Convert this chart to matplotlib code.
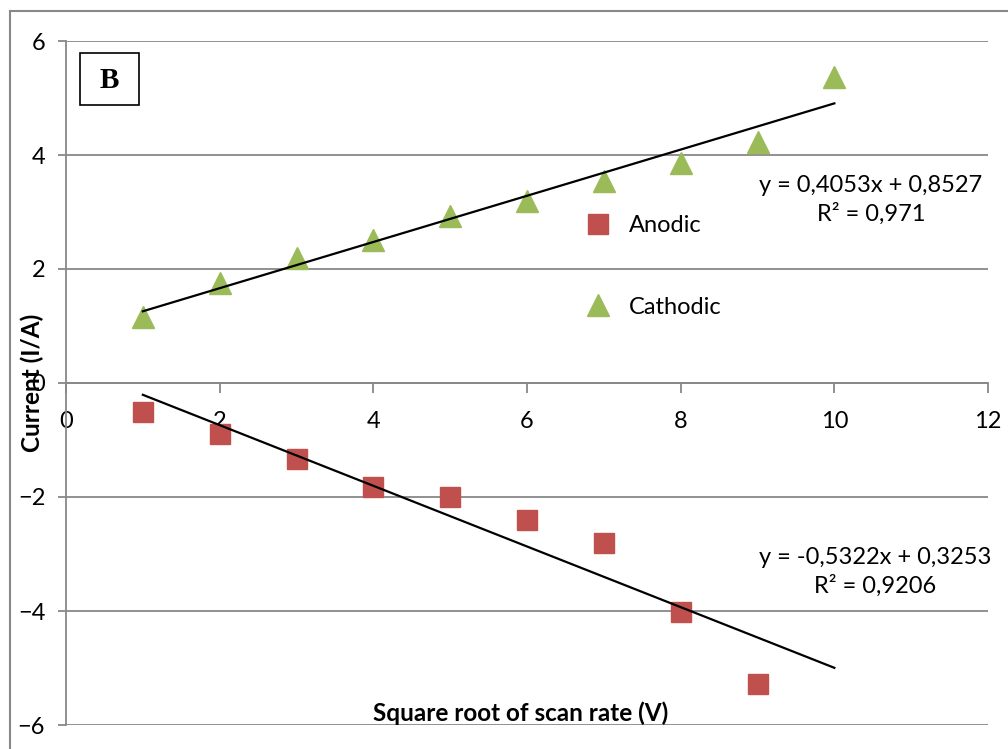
import matplotlib
matplotlib.use("Agg")
import matplotlib.pyplot as plt
from matplotlib.lines import Line2D
from matplotlib.patches import Rectangle
import numpy as np

plt.rcParams['font.family'] = ['Lato', 'DejaVu Sans']

x_cath = [1, 2, 3, 4, 5, 6, 7, 8, 9, 10]
y_cath = [1.16, 1.75, 2.19, 2.51, 2.93, 3.19, 3.54, 3.86, 4.23, 5.37]
x_anod = [1, 2, 3, 4, 5, 6, 7, 8, 9]
y_anod = [-0.51, -0.89, -1.33, -1.82, -2.0, -2.40, -2.81, -4.02, -5.28]

fit_cath = (0.4053, 0.8527)
fit_anod = (-0.5322, 0.3253)
fit_x = [1, 10]

eq_cath = "y = 0,4053x + 0,8527\nR² = 0,971"
eq_anod = "y = -0,5322x + 0,3253\nR² = 0,9206"

xticks = [0, 2, 4, 6, 8, 10, 12]
yticks = [-6, -4, -2, 0, 2, 4, 6]

W, H = 1008, 749
fig = plt.figure(figsize=(W / 100, H / 100), dpi=100)
ax = fig.add_axes([66 / W, 1 - 725 / H, (988 - 66) / W, (725 - 41) / H])

grey = '#888888'
red = '#C0504D'
green = '#9BBB59'
fs = 17

ax.set_xlim(0, 12)
ax.set_ylim(-6, 6)
ax.set_xticks(xticks)
ax.set_yticks(yticks)
ax.yaxis.grid(True, color=grey, linewidth=1.3)
ax.set_axisbelow(True)
for s in ['top', 'right']:
    ax.spines[s].set_visible(False)
ax.spines['left'].set_color(grey)
ax.spines['left'].set_linewidth(1.3)
ax.spines['bottom'].set_position(('data', 0))
ax.spines['bottom'].set_color(grey)
ax.spines['bottom'].set_linewidth(1.3)
ax.tick_params(axis='y', direction='out', length=6, width=1.3, color=grey, labelsize=fs, pad=9)
ax.tick_params(axis='x', direction='out', length=7, width=1.3, color=grey, labelsize=fs, pad=13)

ax.plot(x_anod, y_anod, linestyle='none', marker='s', markersize=14, color=red, label='Anodic', zorder=3)
ax.plot(x_cath, y_cath, linestyle='none', marker='^', markersize=16, color=green, label='Cathodic', zorder=3)

fx = np.array(fit_x, dtype=float)
ax.plot(fx, fit_cath[0] * fx + fit_cath[1], color='black', linewidth=1.6, zorder=4)
ax.plot(fx, fit_anod[0] * fx + fit_anod[1], color='black', linewidth=1.6, zorder=4)

ax.text(871 / W, 1 - 200 / H, eq_cath, transform=fig.transFigure, ha='center', va='center',
        fontsize=fs, linespacing=1.38)
ax.text(875 / W, 1 - 572 / H, eq_anod, transform=fig.transFigure, ha='center', va='center',
        fontsize=fs, linespacing=1.38)

leg = ax.legend(loc='center left', bbox_to_anchor=(588 / W, 1 - 266.5 / H), bbox_transform=fig.transFigure,
                frameon=False, fontsize=fs, handlelength=0.85, handletextpad=0.9,
                labelspacing=2.55, borderpad=0, borderaxespad=0)

fig.text(32 / W, 1 - 383 / H, 'Current (I/A)', rotation=90, ha='center', va='center',
         fontsize=17.5, fontweight='bold')
fig.text(521 / W, 1 - 713 / H, 'Square root of scan rate (V)', ha='center', va='center',
         fontsize=17.5, fontweight='bold')

# "B" box
fig.add_artist(Rectangle((80 / W, 1 - 105 / H), 59 / W, 52 / H, transform=fig.transFigure,
                         fill=False, edgecolor='black', linewidth=1.2))
fig.text(109.5 / W, 1 - 81 / H, 'B', ha='center', va='center', fontsize=21, fontweight='bold',
         family='Liberation Serif')

# outer frame
fig.add_artist(Line2D([10 / W, 10 / W], [0, 1 - 11 / H], transform=fig.transFigure, color=grey, linewidth=1.5))
fig.add_artist(Line2D([10 / W, 1], [1 - 11 / H, 1 - 11 / H], transform=fig.transFigure, color=grey, linewidth=1.5))

fig.savefig('out.png', dpi=100)
